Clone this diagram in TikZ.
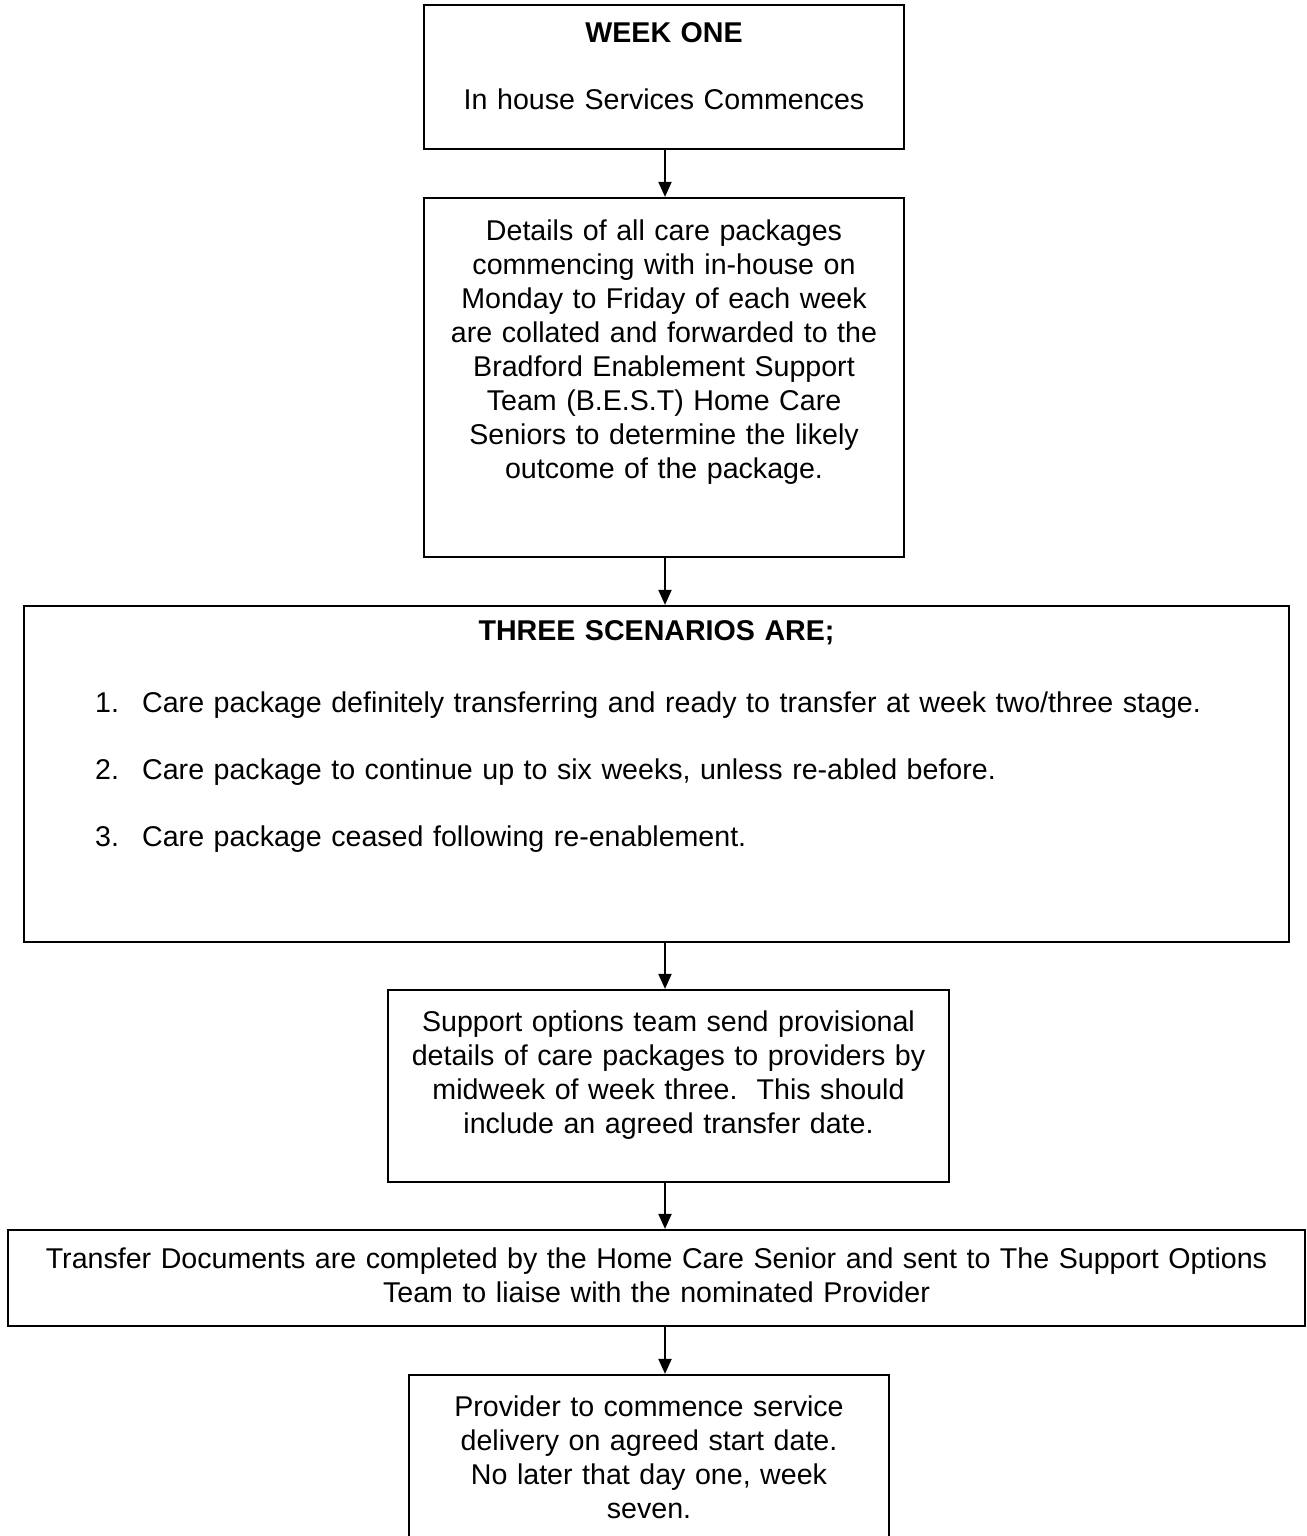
\documentclass[tikz,border=0pt]{standalone}
\usepackage{fontspec}
\setmainfont{Liberation Sans}
\usetikzlibrary{arrows.meta}

\begin{document}
\begin{tikzpicture}
    [x=1pt, y=-1pt,
     box/.style = {draw, rectangle, line width=2.2pt, inner sep=0pt},
     txt/.style = {inner sep=0pt, anchor=base, align=center, font=\fontsize{28.6}{34}\selectfont},
     flow/.style = {-{Triangle[length=15pt,width=13pt]}, line width=2pt}]
    \clip (0,0) rectangle (1306,1536);
    % boxes
    \node[box, minimum width=480pt, minimum height=144pt] (wk1) at (664,77) {};
    \node[box, minimum width=480pt, minimum height=359pt] (det) at (664,377.5) {};
    \node[box, minimum width=1265pt, minimum height=336pt] (scen) at (656.5,774) {};
    \node[box, minimum width=561pt, minimum height=192pt] (sup) at (668.5,1086) {};
    \node[box, minimum width=1297pt, minimum height=96pt] (xfer) at (656.5,1278) {};
    \node[box, minimum width=480pt, minimum height=195pt] (prov) at (649,1472.5) {};
    % texts
    \node[txt, text width=470pt] (wk1t) at (664,43)
      {\textbf{WEEK ONE}\\[33pt]In house Services Commences};
    \node[txt, text width=470pt] (dett) at (664,240)
      {Details of all care packages\\
       commencing with in-house on\\
       Monday to Friday of each week\\
       are collated and forwarded to the\\
       Bradford Enablement Support\\
       Team (B.E.S.T) Home Care\\
       Seniors to determine the likely\\
       outcome of the package.};
    \node[txt, text width=1200pt] (scent) at (656.5,640) {\textbf{THREE SCENARIOS ARE;}};
    \node[txt, text width=1180pt, align=left, anchor=base west] (items) at (95,712)
      {\makebox[47pt][l]{1.}Care package definitely transferring and ready to transfer at week two/three stage.\\[33pt]
       \makebox[47pt][l]{2.}Care package to continue up to six weeks, unless re-abled before.\\[33pt]
       \makebox[47pt][l]{3.}Care package ceased following re-enablement.};
    \node[txt, text width=555pt] (supt) at (668.5,1031)
      {Support options team send provisional\\
       details of care packages to providers by\\
       midweek of week three.\ \ This should\\
       include an agreed transfer date.};
    \node[txt, text width=1290pt] (xfert) at (656.5,1268)
      {Transfer Documents are completed by the Home Care Senior and sent to The Support Options\\
       Team to liaise with the nominated Provider};
    \node[txt, text width=470pt] (provt) at (649,1416)
      {Provider to commence service\\
       delivery on agreed start date.\\
       No later that day one, week\\
       seven.};
    % connectors
    \coordinate (ax) at (665,0);
    \foreach \from/\to in {wk1/det,det/scen,scen/sup,sup/xfer,xfer/prov}
      \draw[flow] (\from.south -| ax) -- (\to.north -| ax);
\end{tikzpicture}
\end{document}
